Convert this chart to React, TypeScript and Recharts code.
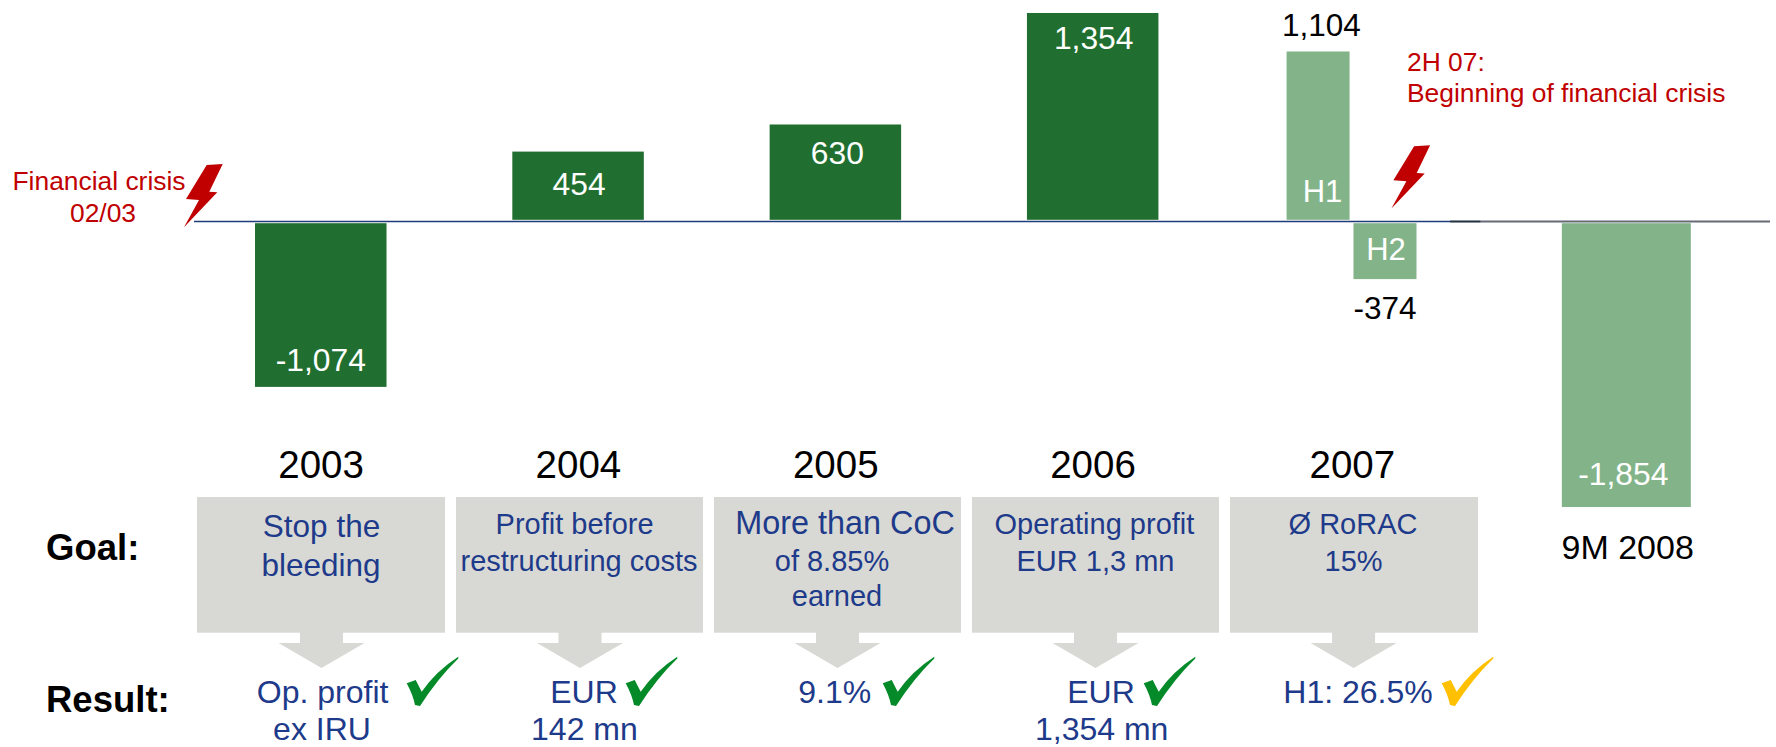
import { Bar, BarChart, LabelList, ReferenceLine, XAxis, YAxis } from "recharts";

const FONT = "'Liberation Sans', Arial, sans-serif";
const DARK_GREEN = "#216F30";
const LIGHT_GREEN = "#83B489";
const BLUE = "#1E3A8A";
const RED = "#C00000";
const GREY = "#D8D9D4";

// bar data, H1/H2 2007 sit either side of the 2007 tick, 9M 2008 runs a bit late
const periods = ["2003", "2004", "2005", "2006", "H1", "H2", "9M 2008"];
const periodMid = [2003, 2004, 2005, 2006, 2006.876, 2007.136, 2008.074];
const profit = [-1074, 454, 630, 1354, 1104, -374, -1854];

const tickValues = [2003, 2004, 2005, 2006, 2007, 2008.074];
const tickLabels = ["2003", "2004", "2005", "2006", "2007", "9M 2008"];

const goalLines = [
    ["Stop the", "bleeding"],
    ["Profit before", "restructuring costs"],
    ["More than CoC", "of 8.85%", "earned"],
    ["Operating profit", "EUR 1,3 mn"],
    ["Ø RoRAC", "15%"],
];
const resultLines = [
    ["Op. profit", "ex IRU"],
    ["EUR", "142 mn"],
    ["9.1%"],
    ["EUR", "1,354 mn"],
    ["H1: 26.5%"],
];

const rows = periods.map((period, i) => ({ period, mid: periodMid[i], profit: profit[i] }));

// layout of the panels under the chart, measured off the slide
const BOXES = [
    { left: 197, right: 445, arrow: 321.5, check: 0 },
    { left: 456, right: 703, arrow: 580, check: 219 },
    { left: 714, right: 961, arrow: 837.5, check: 476 },
    { left: 972, right: 1219, arrow: 1095.5, check: 737 },
    { left: 1230, right: 1478, arrow: 1353.6, check: 1035 },
];
const GOAL_X = [
    [321.5, 321],
    [574.6, 579],
    [845, 832, 837],
    [1094.4, 1095.5],
    [1353, 1353.6],
];
const GOAL_Y = [
    [537, 575.7],
    [534.3, 571],
    [534.3, 571, 605.7],
    [534.3, 571],
    [534.3, 571],
];
const RESULT_X = [
    [322.6, 322],
    [584, 584.4],
    [834.7],
    [1101, 1101.7],
    [1358],
];
// where the white value sits, measured in from the far end of each bar
const LABEL_INSET = [-15.4, 43.6, 39.5, 35.7, 0, 0, -22.5];
const LABEL_SHIFT = [0, 1, 2, 1, 3.4, 0, -3];

const BOLT = "M206.7 165 L222.7 164 L209.3 191.7 L217.3 192.3 L184 227.3 L199 200 L186 199 Z";
const CHECK = "M406.7 683.3 L415.7 680 L421.7 691.7 Q436 671 458.3 656.7 L458.3 658.5 Q438 678 420 706 L415 705 Q413 695 406.7 683.3 Z";

function isHalf(index: number) {
    return periods[index] === "H1" || periods[index] === "H2";
}

function ProfitBar(props: any) {
    const { x, y, width, height, index } = props;
    const top = Math.min(y, y + height);
    const bottom = Math.max(y, y + height);
    const center = x + width / 2;
    const w = isHalf(index) ? 63 : index === 6 ? 129 : 131.5;
    const positive = profit[index] > 0;
    // slide leaves a small white gap either side of the zero line
    const rectTop = positive ? top : top + 1.7;
    const rectBottom = positive ? bottom - 1.7 : bottom;
    const fill = index >= 4 ? LIGHT_GREEN : DARK_GREEN;
    return <rect x={center - w / 2} y={rectTop} width={w} height={rectBottom - rectTop} fill={fill} />;
}

function renderValue(props: any) {
    const { x, y, width, height, index } = props;
    const top = Math.min(y, y + height);
    const bottom = Math.max(y, y + height);
    const center = x + width / 2 + LABEL_SHIFT[index];
    const positive = profit[index] > 0;
    const text = profit[index].toLocaleString("en-US");
    if (isHalf(index)) {
        const outerY = positive ? top - 15 : bottom + 40;
        const innerY = positive ? bottom - 19.3 : top + 38.4;
        return (
            <g fontFamily={FONT} textAnchor="middle">
                <text x={center} y={outerY} fontSize={31.5} fill="#000">{text}</text>
                <text x={center + 1} y={innerY} fontSize={31} fill="#fff">{periods[index]}</text>
            </g>
        );
    }
    const labelY = positive ? top + LABEL_INSET[index] : bottom + LABEL_INSET[index];
    return (
        <text x={center} y={labelY} fontFamily={FONT} fontSize={31.8} fill="#fff" textAnchor="middle">
            {text}
        </text>
    );
}

function PeriodTick(props: any) {
    const { x, y, index } = props;
    const isLast = index === tickLabels.length - 1;
    return (
        <text
            x={isLast ? x + 1 : x + (index === 4 ? 2 : 0)}
            y={isLast ? y + 37 : y - 44}
            fontFamily={FONT}
            fontSize={isLast ? 34 : 38.5}
            fill="#000"
            textAnchor="middle"
        >
            {tickLabels[index]}
        </text>
    );
}

function Panels() {
    return (
        <g fontFamily={FONT}>
            {BOXES.map((b, i) => (
                <g key={i}>
                    <rect x={b.left} y={497} width={b.right - b.left} height={135.7} fill={GREY} />
                    <polygon
                        fill={GREY}
                        points={`${b.arrow - 21.5},632 ${b.arrow + 21.5},632 ${b.arrow + 21.5},643 ${b.arrow + 43},643 ${b.arrow},668 ${b.arrow - 43},643 ${b.arrow - 21.5},643`}
                    />
                    <path d={CHECK} transform={`translate(${b.check} 0)`} fill={i === 4 ? "#FFC000" : "#048A28"} />
                    {goalLines[i].map((line, j) => (
                        <text
                            key={j}
                            x={GOAL_X[i][j]}
                            y={GOAL_Y[i][j]}
                            fontSize={i === 0 ? 31.5 : line === "More than CoC" ? 32.4 : 29}
                            fill={BLUE}
                            textAnchor="middle"
                        >
                            {line}
                        </text>
                    ))}
                    {resultLines[i].map((line, j) => (
                        <text key={j} x={RESULT_X[i][j]} y={j === 0 ? 703.3 : 739.7} fontSize={32} fill={BLUE} textAnchor="middle">
                            {line}
                        </text>
                    ))}
                </g>
            ))}
            <text x={46} y={560} fontSize={36.5} fontWeight="bold" fill="#000">Goal:</text>
            <text x={46} y={711.7} fontSize={36.5} fontWeight="bold" fill="#000">Result:</text>

            <text x={99} y={190} fontSize={26.4} fill={RED} textAnchor="middle">Financial crisis</text>
            <text x={103} y={221.7} fontSize={26.4} fill={RED} textAnchor="middle">02/03</text>
            <text x={1407} y={70.7} fontSize={26.4} fill={RED}>2H 07:</text>
            <text x={1407} y={101.7} fontSize={26.4} fill={RED}>Beginning of financial crisis</text>
            <path d={BOLT} fill={RED} />
            <path d={BOLT} fill={RED} transform="translate(1207.4 -18.7)" />
        </g>
    );
}

export default function App() {
    return (
        <div style={{ position: "absolute", left: 0, top: 0, width: 1776, height: 747, background: "#fff" }}>
            <BarChart
                width={1776}
                height={747}
                data={rows}
                margin={{ top: 5.9, right: 6, bottom: 202.9, left: 194 }}
            >
                <XAxis
                    type="number"
                    dataKey="mid"
                    domain={[2002.506, 2008.631]}
                    ticks={tickValues}
                    interval={0}
                    allowDataOverflow
                    height={30}
                    axisLine={false}
                    tickLine={false}
                    tick={<PeriodTick />}
                />
                <YAxis hide domain={[-1900, 1400]} allowDataOverflow />
                <ReferenceLine y={0} stroke="#1F3C7A" strokeWidth={1.5} />
                <ReferenceLine
                    segment={[{ x: 2007.505, y: 0 }, { x: 2008.631, y: 0 }]}
                    stroke="#6A6A6A"
                    strokeWidth={1.5}
                />
                <ReferenceLine
                    segment={[{ x: 2007.388, y: 0 }, { x: 2007.505, y: 0 }]}
                    stroke="#26323C"
                    strokeWidth={1.8}
                />
                <Bar dataKey="profit" barSize={131} shape={<ProfitBar />} isAnimationActive={false}>
                    <LabelList dataKey="profit" content={renderValue} />
                </Bar>
                <Panels />
            </BarChart>
        </div>
    );
}
